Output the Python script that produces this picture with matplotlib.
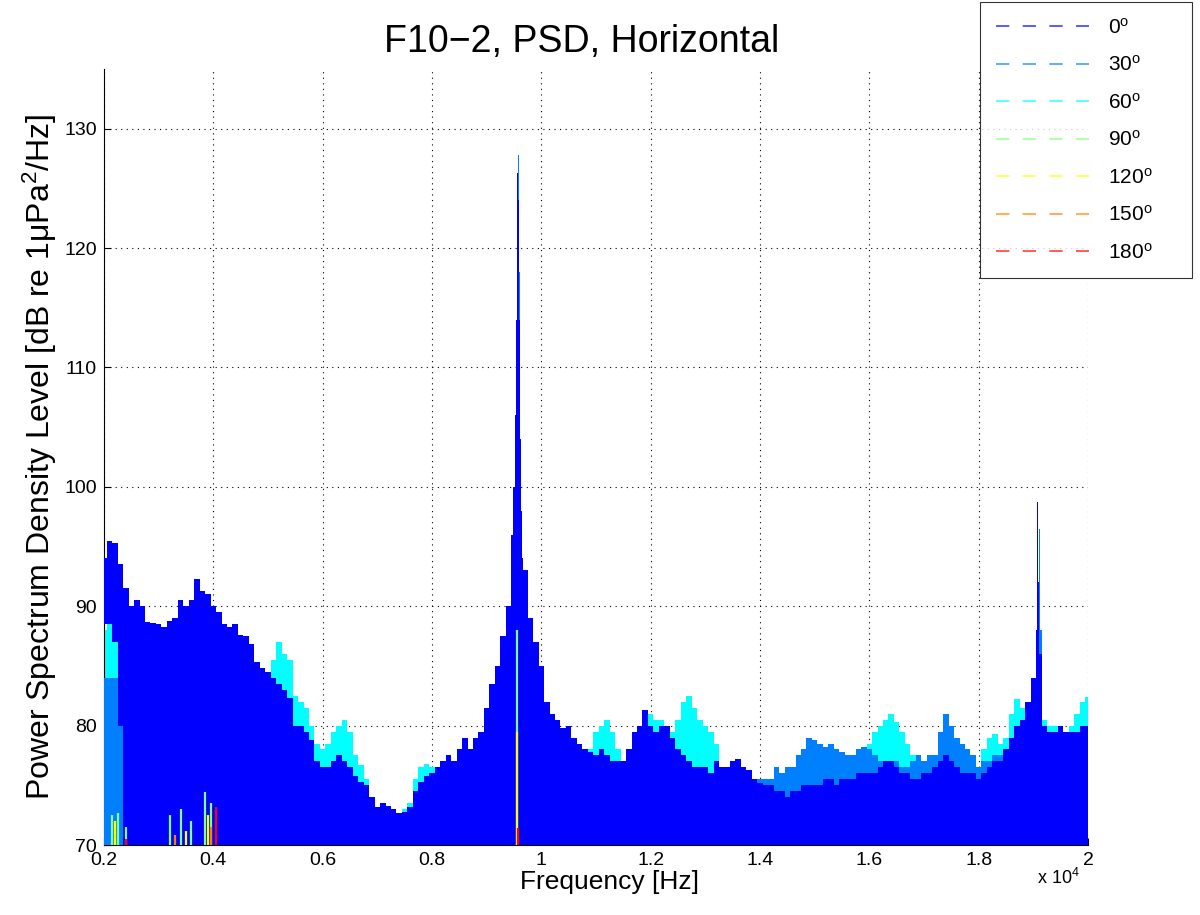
import numpy as np
import matplotlib
matplotlib.use("Agg")
import matplotlib.pyplot as plt
from matplotlib.lines import Line2D

plt.rcParams['font.family'] = ['Liberation Sans', 'DejaVu Sans']
plt.rcParams['mathtext.fontset'] = 'custom'
plt.rcParams['mathtext.rm'] = 'Liberation Sans'
plt.rcParams['mathtext.it'] = 'Liberation Sans'

# frequency bins [Hz], 100 Hz apart
freq = np.arange(2000, 20001, 100)

# upper envelope of each angle [dB]
psd_0 = [
    94, 95.5, 95.3, 93.5, 91.5, 90, 90.5, 90, 88.7, 88.6,
    88.5, 88.3, 88.8, 89, 90.5, 90, 90.5, 92.3, 91.3, 91,
    90, 89.5, 88.5, 88.3, 88.5, 87.6, 87.5, 86.8, 85.3, 84.8,
    84.5, 84, 83.5, 83, 82.3, 80, 80, 79.5, 78.8, 77,
    76.5, 76.5, 77, 77.5, 77, 76.5, 75.8, 75.3, 75, 74,
    73.2, 73.5, 73.3, 73, 72.7, 72.8, 73.2, 74.5, 75.3, 75.8,
    76, 76.5, 77, 77.5, 77, 78, 79, 78, 79, 79.5,
    81.5, 83.5, 85, 87.5, 90, 96, 96, 93, 89, 87,
    85, 82, 81, 80.5, 79.8, 80, 79, 78.5, 78, 77.8,
    77.5, 78, 77.5, 77, 77, 77, 78, 79.5, 80, 81.3,
    80, 79.5, 80, 80, 79, 78, 77.5, 77, 76.5, 76.5,
    76.5, 76, 77, 76.5, 76.5, 77, 77.2, 76.5, 76.3, 75.5,
    75.2, 75, 75, 74.5, 74.5, 74, 74.5, 74.5, 75, 75,
    75, 75, 75.5, 75.5, 75, 75.5, 75.5, 75.5, 76, 76,
    76, 76, 76.5, 77, 77, 76.5, 76, 76, 75.5, 75.5,
    76, 76, 76.5, 77, 77.5, 77, 76.5, 76, 76, 76,
    75.5, 76, 76.5, 77, 77, 78, 79, 80, 80.5, 82,
    84, 86, 80, 79.5, 79.5, 80, 79.5, 79.5, 79.5, 80,
    80]
# lowest level where the 0 deg trace is still the visible one
psd_0_floor = np.full(len(freq), 70.0)
psd_0_floor[:4] = [88.5, 88.5, 87, 80]

psd_30 = [
    84, 84, 84, 82, 86, 86, 87, 86, 86, 86,
    86, 86, 87, 87, 87, 86, 86, 86, 86, 86,
    86, 85, 85, 85, 84, 84, 83, 83, 82, 82,
    81, 81, 80, 80, 80, 79, 79, 78, 77, 76,
    75, 75, 75, 75, 75, 75, 74, 74, 73, 73,
    72, 72, 72, 72, 72, 72, 72, 73, 73, 74,
    74, 74, 75, 75, 75, 75, 76, 76, 76, 77,
    78, 80, 82, 85, 88, 94, 94, 90, 86, 84,
    82, 80, 78, 77, 77, 77, 76, 76, 76, 76,
    76, 76, 76, 76, 76, 76, 76, 77, 77, 78,
    78, 78, 78, 77, 77, 76, 76, 76, 76, 76,
    76, 76, 76, 75.5, 75.5, 75.5, 75.5, 75.5, 75.5, 75.5,
    75.5, 75.5, 75.5, 76.5, 76, 76.5, 76.5, 77.5, 78, 79,
    78.8, 78.5, 78.2, 78.5, 78, 77.8, 77.5, 77.5, 78, 78.2,
    78, 77.5, 77, 77, 77, 77, 76.5, 76.5, 77, 77.5,
    77, 77.5, 77.5, 79.5, 81, 80, 79, 78.5, 78, 77.5,
    76.5, 77, 77, 77.5, 77.5, 77.5, 78, 78.5, 79, 80,
    82, 88, 79, 79, 79, 79, 79, 79, 79.5, 80,
    80]

psd_60 = [
    88, 88.5, 87.5, 85, 86, 86, 86, 85, 85, 85,
    85, 85, 85, 85, 85, 85, 85, 85, 85, 85,
    85, 86, 86, 86, 86, 85, 84, 84, 83, 83,
    84, 85.5, 87, 86, 85.5, 82.5, 82, 81.5, 80, 78.5,
    78, 78.5, 79.5, 80, 80.5, 79.5, 77.5, 76.7, 75.5, 73.5,
    72.5, 72.5, 72.5, 72.5, 72.5, 73, 73.5, 75.5, 76.5, 76.8,
    76.5, 76, 76, 76.5, 76.5, 77, 77, 77, 77.5, 77.5,
    79, 80, 82, 84, 86, 92, 92, 88, 86, 84,
    82, 80, 79, 78.5, 78, 78, 77.5, 77.5, 77.5, 78,
    79.5, 80, 80.5, 79.5, 78, 77, 77.5, 78, 79, 80,
    81, 80.5, 80.5, 80, 79.5, 80.5, 82, 82.5, 81.5, 80.5,
    80, 79.5, 78.5, 76, 76, 76, 76.5, 76, 75.5, 75,
    75, 75, 75, 75.5, 75.5, 76, 76, 76.5, 77, 77.5,
    77.5, 77.5, 77.5, 78, 77.5, 77, 77, 77, 77.5, 77.5,
    78.5, 79.5, 80, 80.5, 81, 80.3, 79.5, 78.5, 77.5, 76.5,
    76.5, 76.5, 77, 77.5, 78, 78, 77.5, 77.5, 77.5, 77,
    76, 78, 79, 79.3, 78.5, 79, 81, 82.2, 81.5, 80.5,
    81, 84, 80.5, 80, 80, 80, 79.5, 80, 81, 82,
    82.4]

# narrow tone near 9.57 kHz, 20 Hz bins
tone1_f = [9480, 9500, 9520, 9540, 9560, 9580, 9600, 9620, 9640, 9660]
tone1_0 = [96, 100, 106, 114, 126.3, 124, 114, 104, 98, 94]
tone1_30 = [94, 96, 100, 108, 120, 127.8, 118, 104, 96, 92]

# narrow tone near 19.1 kHz
tone2_f = [19040, 19060, 19080, 19100, 19120, 19140]
tone2_0 = [84, 88, 98.7, 92, 86, 84]
tone2_30 = [82, 84, 86, 90, 96.5, 88]

# the remaining angles only show as thin streaks
f_90 = [2150, 2250, 2400, 3200, 3400, 3600, 3850, 3950, 9550]
psd_90 = [72.5, 72.7, 71.5, 72.5, 73, 72, 74.4, 73.5, 88]
f_120 = [2200, 3500, 3900, 9555]
psd_120 = [72, 71.2, 72.5, 79.5]
f_150 = [3300, 3950]
psd_150 = [70.8, 71.5]
f_180 = [2400, 4050, 9565]
psd_180 = [70.5, 73.2, 71.4]

angles = ['0', '30', '60', '90', '120', '150', '180']
colors = [(0, 0, 1), (0, 0.5, 1), (0, 1, 1), (0.5, 1, 0.5),
          (1, 1, 0), (1, 0.5, 0), (1, 0, 0)]

fig = plt.figure(figsize=(12, 9.15), dpi=100)
ax = fig.add_axes([104 / 1200, 1 - 845 / 915, 984 / 1200, 776 / 915])

ax.fill_between(freq, 70, psd_60, step='mid', color=colors[2], lw=0, zorder=2)
ax.fill_between(freq, 70, psd_30, step='mid', color=colors[1], lw=0, zorder=3)
ax.fill_between(tone1_f, 70, tone1_30, step='mid', color=colors[1], lw=0, zorder=3)
ax.fill_between(tone2_f, 70, tone2_30, step='mid', color=colors[1], lw=0, zorder=3)
ax.fill_between(freq, psd_0_floor, psd_0, step='mid', color=colors[0], lw=0, zorder=4)
ax.fill_between(tone1_f, 70, tone1_0, step='mid', color=colors[0], lw=0, zorder=4)
ax.fill_between(tone2_f, 70, tone2_0, step='mid', color=colors[0], lw=0, zorder=4)

for f, p, c in [(f_90, psd_90, colors[3]), (f_120, psd_120, colors[4]),
                (f_150, psd_150, colors[5]), (f_180, psd_180, colors[6])]:
    ax.vlines(f, 70, p, colors=[c], lw=1.6, zorder=5)

ax.set_xlim(2000, 20000)
ax.set_ylim(70, 135)
xt = np.arange(2000, 20001, 2000)
ax.set_xticks(xt)
ax.set_xticklabels(['%g' % (v / 1e4) for v in xt])
ax.set_yticks(np.arange(70, 131, 10))
ax.tick_params(direction='in', length=5, labelsize=14, pad=5)
ax.spines['top'].set_visible(False)
ax.spines['right'].set_visible(False)
ax.set_axisbelow(True)
ax.grid(True, linestyle=(0, (1, 4)), color='black', lw=0.8)

ax.set_xlabel('Frequency [Hz]', fontsize=19, labelpad=2)
ax.xaxis.set_label_coords(0.514, -0.032, transform=ax.transAxes)
ax.xaxis.label.set_va('top')
ax.set_ylabel('Power Spectrum Density Level [dB re 1\u03bcPa$^2$/Hz]', fontsize=23, labelpad=4)
ax.set_title('F10\u22122, PSD, Horizontal', fontsize=27, pad=12, x=0.485)
fig.text(1037 / 1200, 1 - 884 / 915, 'x 10$^4$', fontsize=13)

handles = [Line2D([], [], color=c, ls=(0, (8, 8)), lw=1.2, alpha=0.75) for c in colors]
labels = [a + '$^o$' for a in angles]
fig.legend(handles, labels, loc='upper left', mode='expand', borderaxespad=0,
           bbox_to_anchor=(980 / 1200, 1 - 276 / 915, 212 / 1200, 274 / 915),
           fontsize=15, frameon=True, fancybox=False, edgecolor='black',
           handlelength=4.5, labelspacing=0.84, borderpad=0.75, handletextpad=0.9)
leg = fig.legends[0]
leg.get_frame().set_linewidth(0.8)

fig.savefig('out.png', dpi=100)
